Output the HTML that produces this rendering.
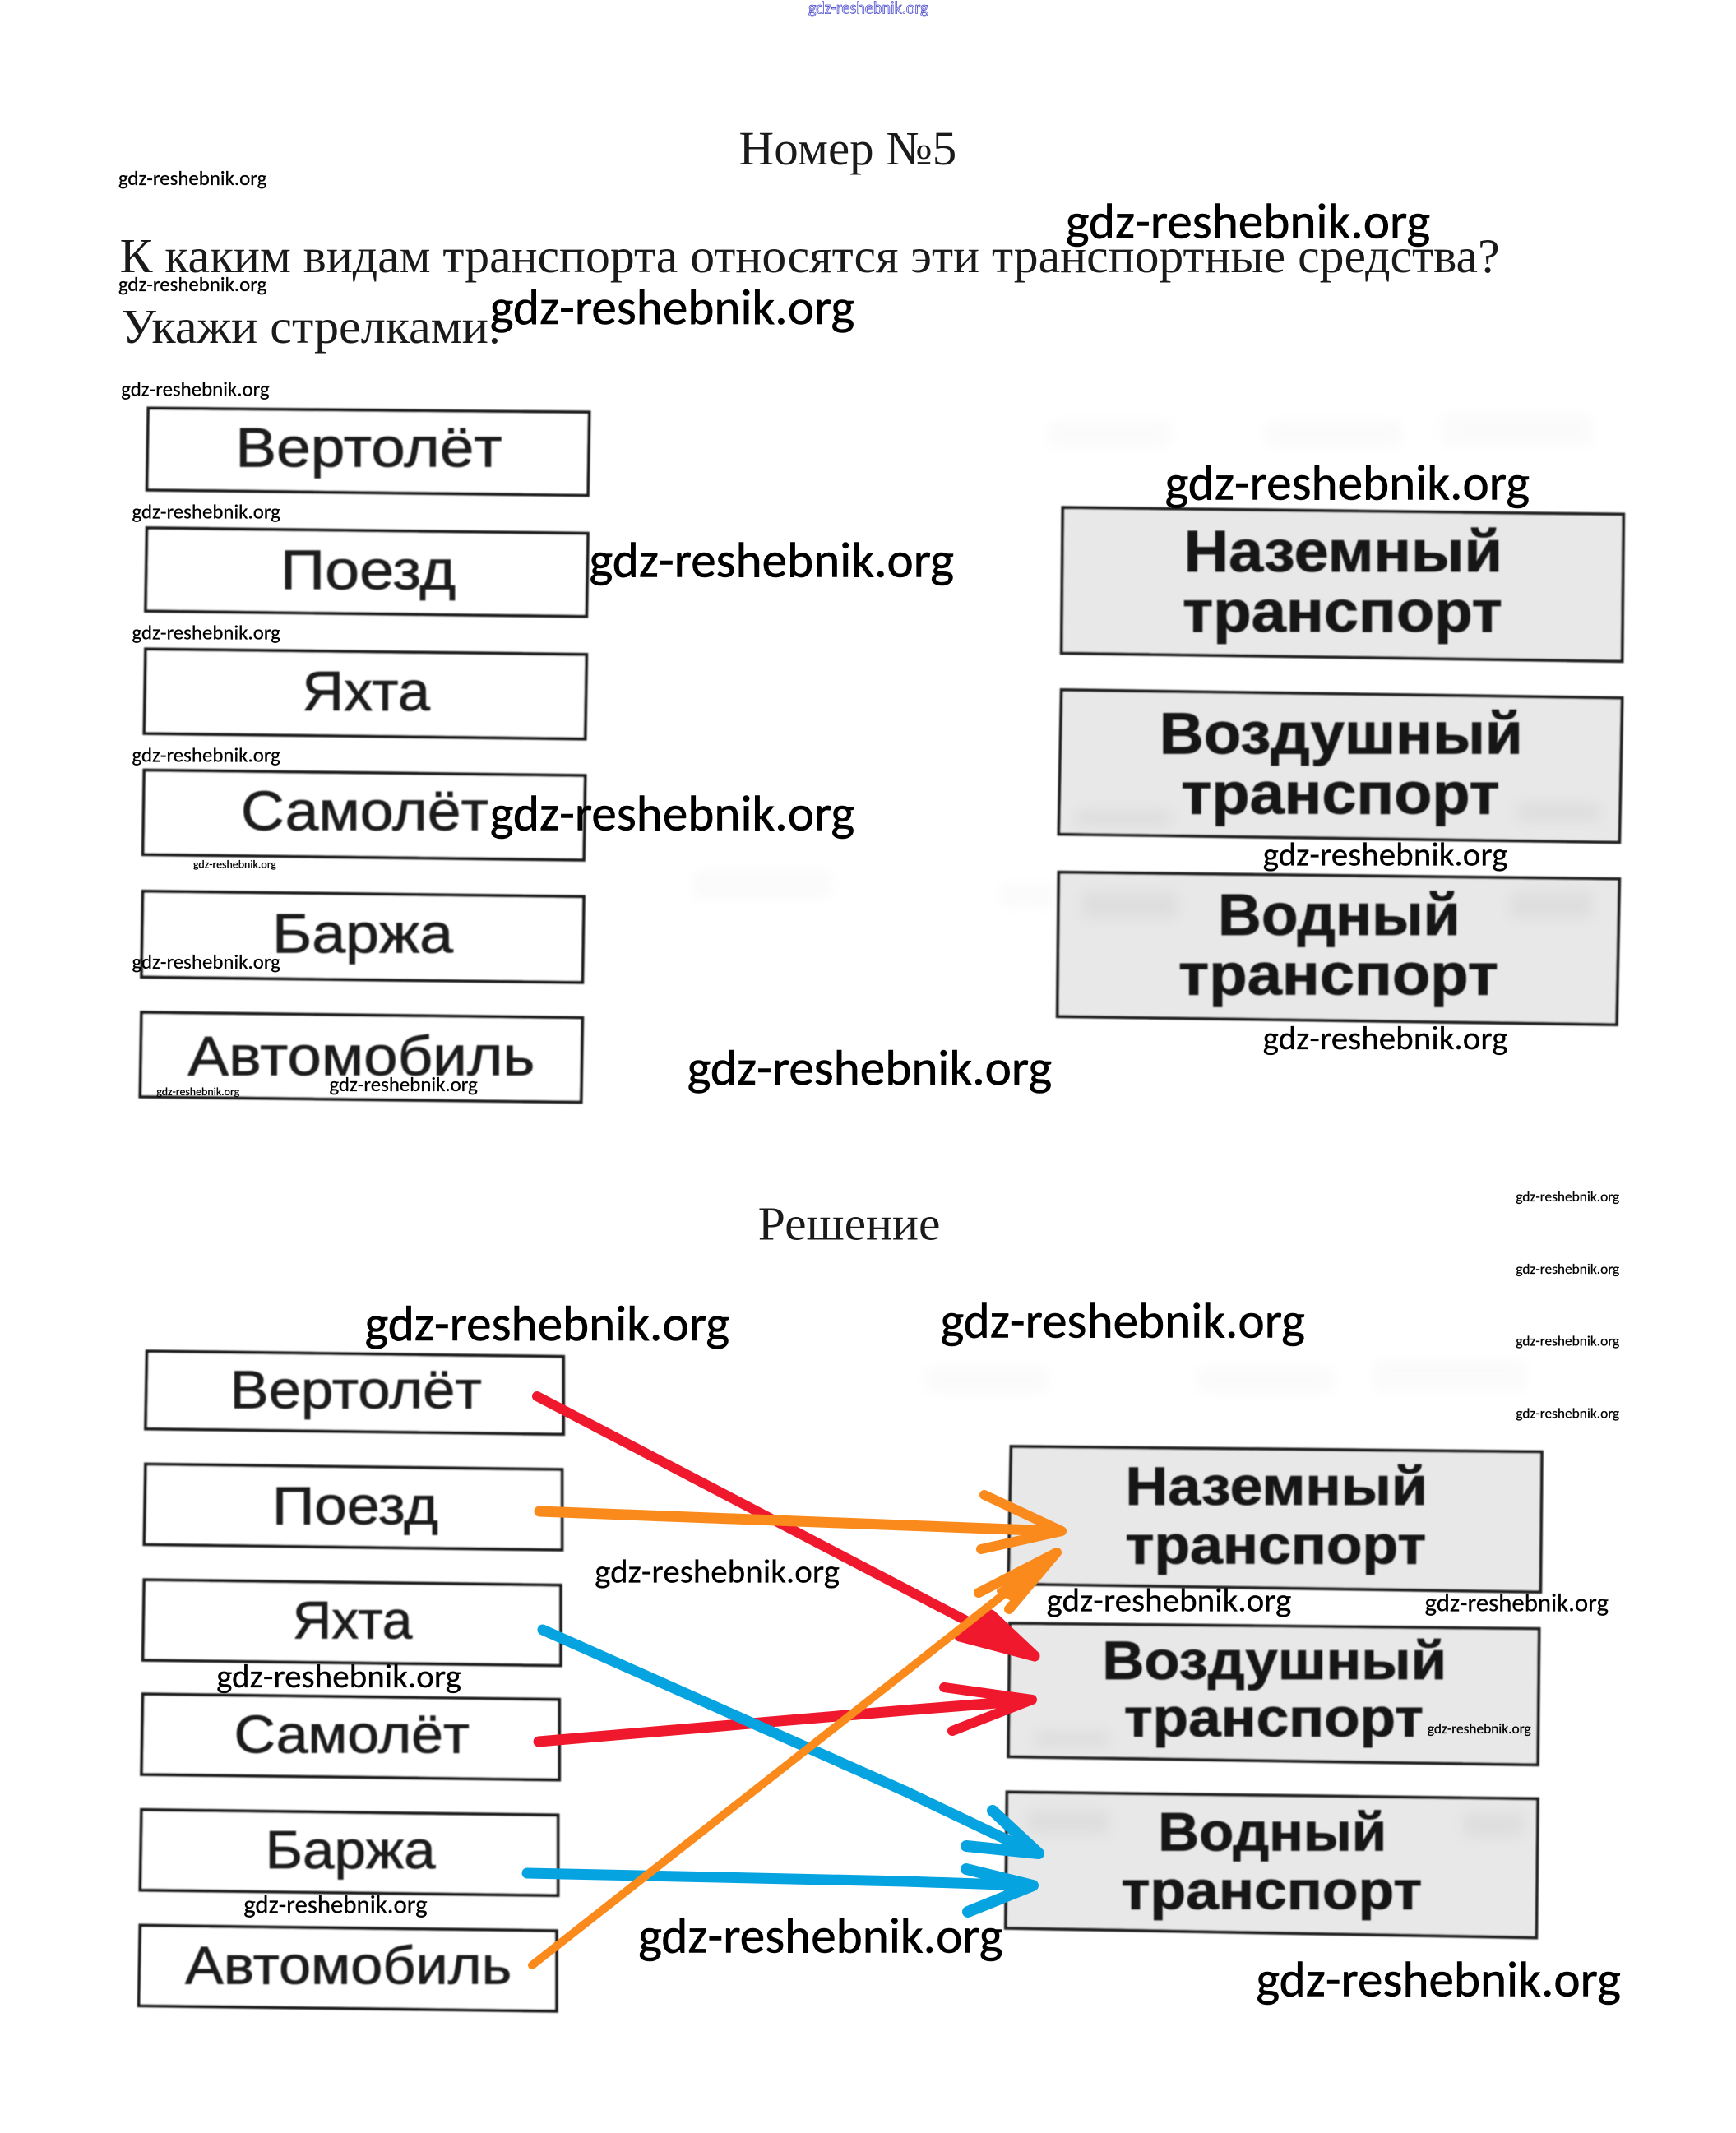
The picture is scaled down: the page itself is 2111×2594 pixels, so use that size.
<!DOCTYPE html>
<html lang="ru"><head><meta charset="utf-8"><title>Номер №5</title>
<style>
html,body{margin:0;padding:0;background:#fff;width:2111px;height:2594px;overflow:hidden}
svg{display:block}
.s{font-family:"Liberation Serif",serif;fill:#1a1a1a}
.p{font-family:"Liberation Sans",sans-serif;fill:#1e1e1e;stroke:#1e1e1e;stroke-width:.45}
.b{font-family:"Liberation Sans",sans-serif;font-weight:700;fill:#141414;stroke:#141414;stroke-width:.5}
.w{font-family:"Carlito","Liberation Sans",sans-serif;fill:#000;stroke:#000;stroke-width:.15}
.l{stroke-width:.35}
.box{fill:#fff;stroke:#1e1e1e;stroke-width:2.4}
.gbox{fill:#e8e8e8;stroke:#222;stroke-width:2.4}
</style></head><body>
<svg width="2111" height="2594" viewBox="0 0 2111 2594" xmlns="http://www.w3.org/2000/svg">
<defs>
<filter id="blur" x="-5%" y="-5%" width="110%" height="110%"><feGaussianBlur stdDeviation="0.55"/></filter>
<filter id="soft" x="-20%" y="-50%" width="140%" height="200%"><feGaussianBlur stdDeviation="5"/></filter>
</defs>
<g transform="scale(1.6548)">
<!-- headings -->
<text class="w" x="594" y="10" font-size="13" textLength="88" lengthAdjust="spacingAndGlyphs" style="fill:#fff;stroke:#4a4ad0;stroke-width:.5">gdz-reshebnik.org</text>
<text class="s" x="543" y="121" font-size="35" textLength="160" lengthAdjust="spacingAndGlyphs">Номер №5</text>
<text class="s" x="88" y="200" font-size="36" textLength="1014" lengthAdjust="spacingAndGlyphs">К каким видам транспорта относятся эти транспортные средства?</text>
<text class="s" x="89" y="252" font-size="36" textLength="279" lengthAdjust="spacingAndGlyphs">Укажи стрелками.</text>
<text class="s" x="557" y="911" font-size="35" textLength="134" lengthAdjust="spacingAndGlyphs">Решение</text>

<!-- faint paper bleed-through -->
<g filter="url(#soft)" fill="#fafafa">
<rect x="770" y="310" width="90" height="18"/><rect x="930" y="310" width="100" height="18"/><rect x="1060" y="305" width="110" height="22"/>
<rect x="510" y="640" width="100" height="20"/><rect x="735" y="650" width="40" height="16"/>
<rect x="680" y="1005" width="90" height="18"/><rect x="880" y="1005" width="100" height="18"/><rect x="1010" y="1000" width="110" height="22"/>
</g>

<g filter="url(#blur)">
<!-- top left boxes -->
<polygon class="box" points="109,300 433,303 432,364 108,360"/>
<polygon class="box" points="108,388 432,392 431,453 107,449"/>
<polygon class="box" points="107,477 431,481 430,543 106,539"/>
<polygon class="box" points="106,566 430,570 429,632 105,628"/>
<polygon class="box" points="105,655 429,659 428,722 104,718"/>
<polygon class="box" points="104,744 428,748 427,810 103,806"/>
<!-- top right boxes -->
<polygon class="gbox" points="781,373 1193,378 1192,486 780,480"/>
<polygon class="gbox" points="780,507 1192,513 1190,619 778,613"/>
<polygon class="gbox" points="778,641 1190,646 1188,753 777,747"/>
<!-- bottom left boxes -->
<polygon class="box" points="108,993 414,997 414,1054 107,1050"/>
<polygon class="box" points="107,1076 413,1080 413,1139 106,1135"/>
<polygon class="box" points="106,1161 412,1165 412,1224 105,1220"/>
<polygon class="box" points="105,1245 411,1249 411,1308 104,1304"/>
<polygon class="box" points="104,1330 410,1334 410,1393 103,1389"/>
<polygon class="box" points="103,1415 409,1419 409,1478 102,1474"/>
<!-- bottom right boxes -->
<polygon class="gbox" points="743,1063 1133,1067 1132,1170 741,1164"/>
<polygon class="gbox" points="742,1193 1131,1197 1130,1297 741,1291"/>
<polygon class="gbox" points="740,1317 1130,1322 1129,1424 739,1417"/>
</g>

<!-- faint marks inside grey panels, under the labels -->
<g filter="url(#soft)" fill="#dedede">
<rect x="795" y="655" width="70" height="20"/><rect x="1110" y="655" width="60" height="20"/>
<rect x="755" y="1330" width="60" height="18"/><rect x="1075" y="1332" width="45" height="18"/>
<rect x="790" y="595" width="70" height="12"/><rect x="1115" y="590" width="60" height="14"/>
<rect x="760" y="1272" width="55" height="12"/>
</g>

<g filter="url(#blur)">
<text class="p" x="173" y="343" font-size="41" textLength="196" lengthAdjust="spacingAndGlyphs">Вертолёт</text>
<text class="p" x="206" y="433" font-size="41" textLength="129" lengthAdjust="spacingAndGlyphs">Поезд</text>
<text class="p" x="222" y="522" font-size="41" textLength="94" lengthAdjust="spacingAndGlyphs">Яхта</text>
<text class="p" x="177" y="610" font-size="41" textLength="182" lengthAdjust="spacingAndGlyphs">Самолёт</text>
<text class="p" x="200" y="700" font-size="41" textLength="133" lengthAdjust="spacingAndGlyphs">Баржа</text>
<text class="p" x="138" y="790" font-size="41" textLength="255" lengthAdjust="spacingAndGlyphs">Автомобиль</text>
<text class="b" x="870" y="420" font-size="43" textLength="234" lengthAdjust="spacingAndGlyphs">Наземный</text>
<text class="b" x="869" y="464" font-size="43" textLength="235" lengthAdjust="spacingAndGlyphs">транспорт</text>
<text class="b" x="852" y="554" font-size="43" textLength="267" lengthAdjust="spacingAndGlyphs">Воздушный</text>
<text class="b" x="868" y="598" font-size="43" textLength="234" lengthAdjust="spacingAndGlyphs">транспорт</text>
<text class="b" x="895" y="687" font-size="43" textLength="178" lengthAdjust="spacingAndGlyphs">Водный</text>
<text class="b" x="866" y="731" font-size="43" textLength="235" lengthAdjust="spacingAndGlyphs">транспорт</text>
<text class="p" x="169" y="1035" font-size="39" textLength="185" lengthAdjust="spacingAndGlyphs">Вертолёт</text>
<text class="p" x="200" y="1120" font-size="39" textLength="122" lengthAdjust="spacingAndGlyphs">Поезд</text>
<text class="p" x="215" y="1204" font-size="39" textLength="88" lengthAdjust="spacingAndGlyphs">Яхта</text>
<text class="p" x="172" y="1288" font-size="39" textLength="173" lengthAdjust="spacingAndGlyphs">Самолёт</text>
<text class="p" x="195" y="1373" font-size="39" textLength="125" lengthAdjust="spacingAndGlyphs">Баржа</text>
<text class="p" x="136" y="1458" font-size="39" textLength="240" lengthAdjust="spacingAndGlyphs">Автомобиль</text>
<text class="b" x="827" y="1106" font-size="40" textLength="222" lengthAdjust="spacingAndGlyphs">Наземный</text>
<text class="b" x="827" y="1149" font-size="40" textLength="221" lengthAdjust="spacingAndGlyphs">транспорт</text>
<text class="b" x="810" y="1234" font-size="40" textLength="253" lengthAdjust="spacingAndGlyphs">Воздушный</text>
<text class="b" x="826" y="1276" font-size="40" textLength="220" lengthAdjust="spacingAndGlyphs">транспорт</text>
<text class="b" x="851" y="1360" font-size="40" textLength="168" lengthAdjust="spacingAndGlyphs">Водный</text>
<text class="b" x="824" y="1403" font-size="40" textLength="221" lengthAdjust="spacingAndGlyphs">транспорт</text>
</g>
</g>

<!-- arrows (real px) -->
<g fill="none" stroke-linecap="round" stroke-linejoin="round">
<g stroke="#f0182c">
<path d="M653 1698 L1240 2005" stroke-width="12"/>
<polygon points="1167,1990 1205,1964 1258,2014" fill="#f0182c" stroke-width="13"/>
<path d="M655 2118 L1100 2080 L1250 2068" stroke-width="13"/>
<path d="M1148 2052 L1255 2067 L1158 2105" stroke-width="12"/>
</g>
<g stroke="#05a3e0">
<path d="M660 1982 L1100 2178 L1255 2252" stroke-width="13"/>
<path d="M1207 2202 L1263 2254 L1175 2245" stroke-width="14"/>
<path d="M641 2278 L1100 2288 L1250 2293" stroke-width="13"/>
<path d="M1175 2273 L1256 2293 L1177 2325" stroke-width="14"/>
</g>
<g stroke="#fb8a1c">
<path d="M656 1838 L1100 1855 L1285 1862" stroke-width="13"/>
<path d="M1197 1818 L1291 1862 L1193 1884" stroke-width="12"/>
<path d="M647 2390 L1100 2034 L1280 1892" stroke-width="10"/>
<path d="M1190 1937 L1285 1888 L1227 1957" stroke-width="12"/>
<polygon points="1215,1935 1283,1890 1232,1945" fill="#fb8a1c" stroke-width="6"/>
</g>
</g>

<g transform="scale(1.6548)">
<!-- watermarks -->
<g>
<text class="w l" x="783" y="175" font-size="36.5" textLength="268" lengthAdjust="spacingAndGlyphs">gdz-reshebnik.org</text>
<text class="w l" x="360" y="238" font-size="36.5" textLength="268" lengthAdjust="spacingAndGlyphs">gdz-reshebnik.org</text>
<text class="w l" x="856" y="367" font-size="36.5" textLength="268" lengthAdjust="spacingAndGlyphs">gdz-reshebnik.org</text>
<text class="w l" x="433" y="424" font-size="36.5" textLength="268" lengthAdjust="spacingAndGlyphs">gdz-reshebnik.org</text>
<text class="w l" x="360" y="610" font-size="36.5" textLength="268" lengthAdjust="spacingAndGlyphs">gdz-reshebnik.org</text>
<text class="w l" x="505" y="797" font-size="36.5" textLength="268" lengthAdjust="spacingAndGlyphs">gdz-reshebnik.org</text>
<text class="w l" x="268" y="985" font-size="36.5" textLength="268" lengthAdjust="spacingAndGlyphs">gdz-reshebnik.org</text>
<text class="w l" x="691" y="983" font-size="36.5" textLength="268" lengthAdjust="spacingAndGlyphs">gdz-reshebnik.org</text>
<text class="w l" x="469" y="1435" font-size="36.5" textLength="268" lengthAdjust="spacingAndGlyphs">gdz-reshebnik.org</text>
<text class="w l" x="923" y="1467" font-size="36.5" textLength="268" lengthAdjust="spacingAndGlyphs">gdz-reshebnik.org</text>

<text class="w" x="928" y="636" font-size="24.5" textLength="180" lengthAdjust="spacingAndGlyphs">gdz-reshebnik.org</text>
<text class="w" x="928" y="771" font-size="24.5" textLength="180" lengthAdjust="spacingAndGlyphs">gdz-reshebnik.org</text>
<text class="w" x="437" y="1163" font-size="24.5" textLength="180" lengthAdjust="spacingAndGlyphs">gdz-reshebnik.org</text>
<text class="w" x="769" y="1184" font-size="24.5" textLength="180" lengthAdjust="spacingAndGlyphs">gdz-reshebnik.org</text>
<text class="w" x="159" y="1240" font-size="24.5" textLength="180" lengthAdjust="spacingAndGlyphs">gdz-reshebnik.org</text>

<text class="w" x="1047" y="1184" font-size="18.4" textLength="135" lengthAdjust="spacingAndGlyphs">gdz-reshebnik.org</text>
<text class="w" x="179" y="1406" font-size="18.4" textLength="135" lengthAdjust="spacingAndGlyphs">gdz-reshebnik.org</text>

<text class="w" x="87" y="136" font-size="14.8" textLength="109" lengthAdjust="spacingAndGlyphs">gdz-reshebnik.org</text>
<text class="w" x="87" y="214" font-size="14.8" textLength="109" lengthAdjust="spacingAndGlyphs">gdz-reshebnik.org</text>
<text class="w" x="89" y="291" font-size="14.8" textLength="109" lengthAdjust="spacingAndGlyphs">gdz-reshebnik.org</text>
<text class="w" x="97" y="381" font-size="14.8" textLength="109" lengthAdjust="spacingAndGlyphs">gdz-reshebnik.org</text>
<text class="w" x="97" y="470" font-size="14.8" textLength="109" lengthAdjust="spacingAndGlyphs">gdz-reshebnik.org</text>
<text class="w" x="97" y="560" font-size="14.8" textLength="109" lengthAdjust="spacingAndGlyphs">gdz-reshebnik.org</text>
<text class="w" x="97" y="712" font-size="14.8" textLength="109" lengthAdjust="spacingAndGlyphs">gdz-reshebnik.org</text>
<text class="w" x="242" y="802" font-size="14.8" textLength="109" lengthAdjust="spacingAndGlyphs">gdz-reshebnik.org</text>

<text class="w" x="142" y="638" font-size="8.3" textLength="61" lengthAdjust="spacingAndGlyphs">gdz-reshebnik.org</text>
<text class="w" x="115" y="805" font-size="8.3" textLength="61" lengthAdjust="spacingAndGlyphs">gdz-reshebnik.org</text>

<text class="w" x="1114" y="883" font-size="10.4" textLength="76" lengthAdjust="spacingAndGlyphs">gdz-reshebnik.org</text>
<text class="w" x="1114" y="936" font-size="10.4" textLength="76" lengthAdjust="spacingAndGlyphs">gdz-reshebnik.org</text>
<text class="w" x="1114" y="989" font-size="10.4" textLength="76" lengthAdjust="spacingAndGlyphs">gdz-reshebnik.org</text>
<text class="w" x="1114" y="1042" font-size="10.4" textLength="76" lengthAdjust="spacingAndGlyphs">gdz-reshebnik.org</text>
<text class="w" x="1049" y="1274" font-size="10.4" textLength="76" lengthAdjust="spacingAndGlyphs">gdz-reshebnik.org</text>
</g>
</g>
</svg>
</body></html>
